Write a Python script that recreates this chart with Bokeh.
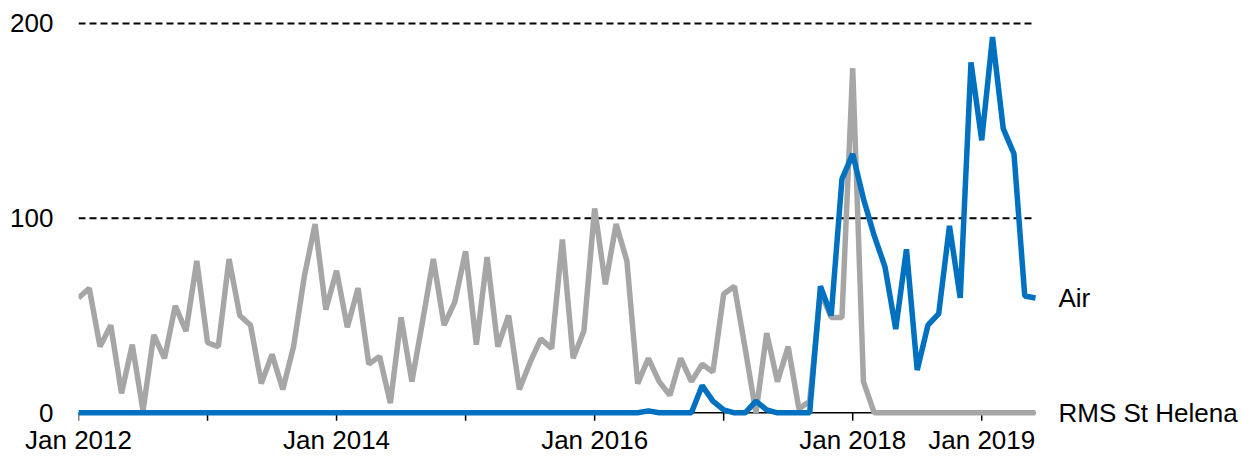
import math
from bokeh.plotting import figure
from bokeh.models import Range1d, FixedTicker
from bokeh.core.properties import value
from bokeh.embed import file_html
from bokeh.resources import INLINE

# Monthly values, Jan 2012 .. Jun 2019
rms_st_helena = [
    59, 64, 34, 45, 10, 35, 1, 40, 28, 55, 42, 78,      # 2012
    36, 34, 79, 50, 45, 15, 30, 12, 34, 70, 97, 53,     # 2013
    73, 44, 64, 25, 29, 5, 49, 16, 47, 79, 45, 57,      # 2014
    83, 35, 80, 34, 50, 12, 26, 38, 33, 89, 28, 42,     # 2015
    105, 66, 97, 78, 15, 28, 16, 9, 28, 16, 25, 21,     # 2016
    61, 65, 33, 0, 41, 16, 34, 2, 6, 62, 49, 49,        # 2017
    177, 16, 0, 0, 0, 0, 0, 0, 0, 0, 0, 0,              # 2018
    0, 0, 0, 0, 0, 0,                                   # 2019
]
air = [
    0, 0, 0, 0, 0, 0, 0, 0, 0, 0, 0, 0,                 # 2012
    0, 0, 0, 0, 0, 0, 0, 0, 0, 0, 0, 0,                 # 2013
    0, 0, 0, 0, 0, 0, 0, 0, 0, 0, 0, 0,                 # 2014
    0, 0, 0, 0, 0, 0, 0, 0, 0, 0, 0, 0,                 # 2015
    0, 0, 0, 0, 0, 1, 0, 0, 0, 0, 14, 6,                # 2016
    1.5, 0, 0, 6, 1.5, 0, 0, 0, 0, 65, 50, 120,         # 2017
    133, 110, 91, 75, 43, 84, 22, 45, 51, 96, 59, 180,  # 2018
    140, 193, 146, 133, 60, 59,                         # 2019
]
months = list(range(len(air)))  # month index from Jan 2012

series_names = ["Air", "RMS St Helena"]
tick_months = [0, 12, 24, 36, 48, 60, 72, 84]
tick_labels = ["Jan 2012", "", "Jan 2014", "", "Jan 2016", "", "Jan 2018", "Jan 2019"]
y_ticks = [0, 100, 200]
grid_ticks = [100, 200]

FONT = "Liberation Sans"
BLUE = "#0070C0"
GREY = "#A6A6A6"

W, H = 1243, 457
LEFT = 78          # left edge of the data area
DATA_RIGHT = 1035  # where the last month sits
# extend the x range so the end-of-line labels sit inside the frame
x_end = months[-1] * (W - LEFT) / (DATA_RIGHT - LEFT)

p = figure(width=W, height=H, output_backend="svg", toolbar_location=None,
           x_range=Range1d(months[0], x_end), y_range=Range1d(-6, 201),
           min_border_left=LEFT, min_border_right=0, min_border_top=21, min_border_bottom=0)
p.outline_line_color = None
p.background_fill_color = "white"
p.border_fill_color = "white"
p.xgrid.visible = False
p.ygrid.visible = False

# dashed gridlines, baseline and tick marks, spanning the data months only
p.segment(x0=[months[0]] * len(grid_ticks), x1=[months[-1]] * len(grid_ticks),
          y0=grid_ticks, y1=grid_ticks, line_color="black", line_width=2, line_dash="7 4")
p.segment(x0=[months[0]], x1=[months[-1]], y0=[0], y1=[0], line_color="black", line_width=1.5)
p.ray(x=tick_months, y=[0] * len(tick_months), length=8, length_units="screen",
      angle=-math.pi / 2, line_color="black", line_width=1.5)

p.line(months, rms_st_helena, line_color=GREY, line_width=5.5)
p.line(months, air, line_color=BLUE, line_width=5.5)

p.text(x=[months[-1]] * 2, y=[air[-1], rms_st_helena[-1]], text=series_names,
       x_offset=23, text_baseline="middle", text_align="left",
       text_font=value(FONT), text_font_size="26px", text_color="black")

p.yaxis.ticker = FixedTicker(ticks=y_ticks)
p.yaxis.axis_line_color = None
p.yaxis.major_tick_line_color = None
p.yaxis.minor_tick_line_color = None
p.yaxis.major_tick_out = 0
p.yaxis.major_tick_in = 0
p.yaxis.major_label_standoff = 25
p.yaxis.major_label_text_font = FONT
p.yaxis.major_label_text_font_size = "26px"
p.yaxis.major_label_text_color = "black"

p.xaxis.ticker = FixedTicker(ticks=tick_months)
p.xaxis.major_label_overrides = {m: t for m, t in zip(tick_months, tick_labels)}
p.xaxis.axis_line_color = None
p.xaxis.major_tick_line_color = None
p.xaxis.minor_tick_line_color = None
p.xaxis.major_tick_out = 0
p.xaxis.major_tick_in = 0
p.xaxis.major_label_standoff = 0
p.xaxis.major_label_text_font = FONT
p.xaxis.major_label_text_font_size = "26px"
p.xaxis.major_label_text_color = "black"

open("out.html", "w").write(file_html(p, INLINE))
